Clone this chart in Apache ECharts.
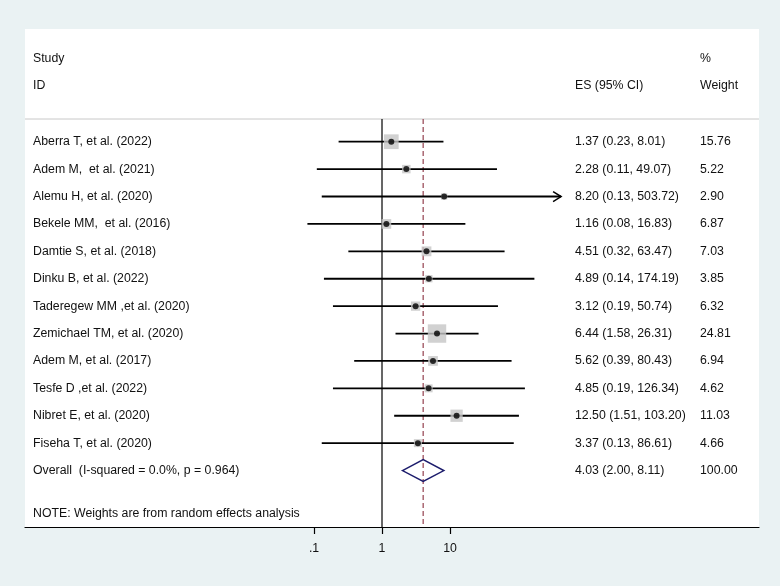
<!DOCTYPE html>
<html>
<head>
<meta charset="utf-8">
<title>Forest plot</title>
<script src="https://cdn.jsdelivr.net/npm/echarts@6/dist/echarts.min.js"></script>
<style>
  html, body { margin: 0; padding: 0; background: #eaf2f3; }
  #main { width: 780px; height: 586px; }
</style>
</head>
<body>
<div id="main"></div>
<script>
// study rows, top to bottom
const studies = [
  'Aberra T, et al. (2022)',
  'Adem M,  et al. (2021)',
  'Alemu H, et al. (2020)',
  'Bekele MM,  et al. (2016)',
  'Damtie S, et al. (2018)',
  'Dinku B, et al. (2022)',
  'Taderegew MM ,et al. (2020)',
  'Zemichael TM, et al. (2020)',
  'Adem M, et al. (2017)',
  'Tesfe D ,et al. (2022)',
  'Nibret E, et al. (2020)',
  'Fiseha T, et al. (2020)'
];
const es = [1.37, 2.28, 8.20, 1.16, 4.51, 4.89, 3.12, 6.44, 5.62, 4.85, 12.50, 3.37];
const lower = [0.23, 0.11, 0.13, 0.08, 0.32, 0.14, 0.19, 1.58, 0.39, 0.19, 1.51, 0.13];
const upper = [8.01, 49.07, 503.72, 16.83, 63.47, 174.19, 50.74, 26.31, 80.43, 126.34, 103.20, 86.61];
const weights = [15.76, 5.22, 2.90, 6.87, 7.03, 3.85, 6.32, 24.81, 6.94, 4.62, 11.03, 4.66];

const overallLabel = 'Overall  (I-squared = 0.0%, p = 0.964)';
const overallES = 4.03;
const overallLower = 2.00;
const overallUpper = 8.11;
const overallWeight = 100.00;

const tickValues = [0.1, 1, 10];
const tickLabels = ['.1', '1', '10'];

// layout
const ciMax = 430;          // CI clipped here, drawn with an arrow
const boxScale = 3.7;       // square side = boxScale * sqrt(weight)
const overallRow = studies.length;
const lineTopRow = -0.83;   // vertical lines start at header separator
const rowMin = -4.113, rowMax = 14.06;
const colStudy = 33, colES = 575, colWeight = 700;
const textFont = '12.3px "Liberation Sans", Arial, sans-serif';
const textColor = '#111';

const fmt = v => v.toFixed(2);
const rowES = es.map((v, i) => `${fmt(v)} (${fmt(lower[i])}, ${fmt(upper[i])})`)
  .concat(`${fmt(overallES)} (${fmt(overallLower)}, ${fmt(overallUpper)})`);
const rowWeight = weights.map(fmt).concat(fmt(overallWeight));
const rowStudy = studies.concat(overallLabel);

const chart = echarts.init(document.getElementById('main'));

function headerText(x, y, text) {
  return { type: 'text', x, y, style: { text, fill: textColor, font: textFont, verticalAlign: 'middle' } };
}

chart.setOption({
  backgroundColor: '#eaf2f3',
  animation: false,
  grid: { left: 25, right: 21, top: 29, bottom: 59, show: true, backgroundColor: '#fff', borderWidth: 0 },
  xAxis: {
    type: 'log',
    logBase: 10,
    min: Math.pow(10, -5.25),
    max: Math.pow(10, 5.544),
    axisLine: { show: true, onZero: false, lineStyle: { color: '#000', width: 1.2 } },
    axisTick: { show: true, customValues: tickValues, length: 7, lineStyle: { color: '#000', width: 1.2 } },
    axisLabel: {
      customValues: tickValues,
      formatter: v => tickLabels[tickValues.findIndex(t => Math.abs(t - v) < 1e-9)] ?? '',
      color: textColor, fontSize: 12.3, fontFamily: 'Liberation Sans', margin: 16
    },
    splitLine: { show: false },
    minorTick: { show: false }
  },
  yAxis: { type: 'value', inverse: true, min: rowMin, max: rowMax, show: false, axisLine: { onZero: false } },
  graphic: [
    headerText(colStudy, 58.5, 'Study'),
    headerText(colStudy, 86, 'ID'),
    headerText(colES, 86, 'ES (95% CI)'),
    headerText(colWeight, 59, '%'),
    headerText(colWeight, 86, 'Weight'),
    headerText(colStudy, 514, 'NOTE: Weights are from random effects analysis'),
    { type: 'line', shape: { x1: 25, y1: 119, x2: 759, y2: 119 }, style: { stroke: '#c8c8c8', lineWidth: 1 } }
  ],
  series: [
    {
      // weight boxes
      type: 'scatter',
      silent: true,
      symbol: 'rect',
      symbolSize: d => boxScale * Math.sqrt(d[2]),
      itemStyle: { color: '#c6c6c6' },
      data: es.map((v, i) => [v, i, weights[i]])
    },
    {
      // null line and pooled estimate line
      type: 'custom',
      silent: true,
      data: [[1, 0], [overallES, 1]],
      renderItem(params, api) {
        const top = api.coord([api.value(0), lineTopRow]);
        const bot = api.coord([api.value(0), rowMax]);
        const dashed = api.value(1) === 1;
        return {
          type: 'line',
          shape: { x1: top[0], y1: top[1], x2: bot[0], y2: bot[1] },
          style: dashed
            ? { stroke: '#94404f', lineWidth: 1.2, lineDash: [5, 3] }
            : { stroke: '#000', lineWidth: 1.2 }
        };
      }
    },
    {
      // confidence intervals
      type: 'custom',
      silent: true,
      data: es.map((v, i) => [lower[i], upper[i], i]),
      renderItem(params, api) {
        const hi = Math.min(api.value(1), ciMax);
        const a = api.coord([api.value(0), api.value(2)]);
        const b = api.coord([hi, api.value(2)]);
        const children = [{
          type: 'line',
          shape: { x1: a[0], y1: a[1], x2: b[0], y2: b[1] },
          style: { stroke: '#000', lineWidth: 1.8 }
        }];
        if (api.value(1) > ciMax) {
          children.push({
            type: 'polyline',
            shape: { points: [[b[0] - 8, b[1] - 5], [b[0], b[1]], [b[0] - 8, b[1] + 5]] },
            style: { stroke: '#000', lineWidth: 1.5, fill: null }
          });
        }
        return { type: 'group', children };
      }
    },
    {
      // point estimates
      type: 'scatter',
      silent: true,
      symbol: 'circle',
      symbolSize: 6,
      itemStyle: { color: '#000' },
      data: es.map((v, i) => [v, i])
    },
    {
      // pooled diamond
      type: 'custom',
      silent: true,
      data: [[overallLower, overallES, overallUpper, overallRow]],
      renderItem(params, api) {
        const r = api.value(3);
        const pts = [
          api.coord([api.value(0), r]),
          api.coord([api.value(1), r - 0.4]),
          api.coord([api.value(2), r]),
          api.coord([api.value(1), r + 0.4])
        ];
        return {
          type: 'polygon',
          shape: { points: pts },
          style: { stroke: '#1c1c6c', lineWidth: 1.5, fill: null }
        };
      }
    },
    {
      // table text
      type: 'custom',
      silent: true,
      data: rowStudy.map((s, i) => [1, i]),
      renderItem(params, api) {
        const y = api.coord([1, api.value(1)])[1];
        const i = params.dataIndex;
        const txt = (x, text) => ({
          type: 'text', x, y,
          style: { text, fill: textColor, font: textFont, verticalAlign: 'middle' }
        });
        return {
          type: 'group',
          children: [txt(colStudy, rowStudy[i]), txt(colES, rowES[i]), txt(colWeight, rowWeight[i])]
        };
      }
    }
  ]
});
</script>
</body>
</html>
